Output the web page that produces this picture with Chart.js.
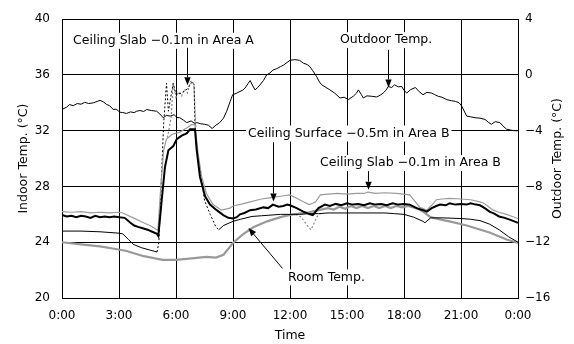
<!DOCTYPE html>
<html><head><meta charset="utf-8">
<script src="https://cdn.jsdelivr.net/npm/chart.js@4/dist/chart.umd.min.js"></script>
<style>html,body{margin:0;padding:0;background:#fff}</style>
</head><body>
<canvas id="c" width="574" height="344"></canvas>
<script>
// ---------- data (hours of day, temperatures in °C) ----------
const xTicks = [0, 3, 6, 9, 12, 15, 18, 21, 24];
const xTickLabels = ['0:00','3:00','6:00','9:00','12:00','15:00','18:00','21:00','0:00'];
const indoorTicks = [20, 24, 28, 32, 36, 40];
const outdoorTicks = [-16, -12, -8, -4, 0, 4];

// Outdoor temperature (right axis)
const outdoorTime = [0,0.25,0.4,0.6,0.8,1.0,1.2,1.4,1.65,1.85,2.0,2.2,2.35,2.5,2.7,2.85,3.05,3.2,3.4,3.6,3.8,3.93,4.1,4.3,4.46,4.7,4.98,5.15,5.33,5.5,5.7,5.9,6.05,6.2,6.4,6.56,6.8,6.95,7.1,7.3,7.5,7.7,7.9,8.1,8.3,8.5,8.67,8.85,8.98,9.2,9.37,9.5,9.63,9.8,9.9,10.05,10.16,10.3,10.42,10.6,10.77,10.95,11.1,11.3,11.5,11.65,11.85,12.0,12.25,12.5,12.7,12.9,13.05,13.2,13.4,13.55,13.67,13.9,14.1,14.35,14.63,14.85,15.07,15.33,15.5,15.6,15.75,15.86,16.05,16.3,16.56,16.75,16.9,17.05,17.17,17.35,17.5,17.7,17.88,18.0,18.14,18.35,18.6,18.8,19.0,19.2,19.46,19.6,19.8,20.0,20.25,20.5,20.7,20.9,21.04,21.3,21.5,21.74,22.0,22.26,22.45,22.6,22.8,23.05,23.2,23.4,23.6,23.8,24.0];
const outdoorTemp = [-2.48,-2.3,-2.13,-2.2,-2.05,-2.1,-1.96,-2.05,-2.0,-1.9,-1.82,-1.95,-2.12,-2.2,-2.48,-2.45,-2.67,-2.7,-2.76,-2.65,-2.7,-2.6,-2.55,-2.62,-2.48,-2.55,-2.6,-2.8,-3.07,-2.9,-2.95,-2.85,-3.05,-3.07,-3.25,-3.42,-3.3,-3.45,-3.42,-3.5,-3.54,-3.6,-3.84,-3.6,-3.42,-3.1,-2.6,-1.9,-1.42,-1.3,-1.18,-1.1,-0.95,-0.6,-0.4,-0.8,-1.07,-0.9,-0.71,-0.4,0.0,0.15,0.35,0.45,0.6,0.7,0.9,1.05,1.1,1.05,0.85,0.75,0.59,0.3,-0.12,-0.5,-0.71,-0.9,-1.07,-1.3,-1.65,-1.6,-1.77,-1.53,-1.3,-1.07,-1.4,-1.65,-1.5,-1.53,-1.58,-1.45,-1.3,-1.1,-0.83,-0.9,-0.71,-0.85,-0.83,-1.1,-1.3,-1.05,-0.9,-1.2,-1.42,-1.25,-1.3,-1.4,-1.53,-1.6,-1.77,-1.85,-1.89,-2.0,-2.24,-2.95,-3.0,-3.07,-3.1,-3.19,-3.4,-3.54,-3.35,-3.42,-3.65,-3.89,-3.95,-4.0,-4.0];

// Ceiling Surface -0.5m in Area B (thick black)
const surfBTime = [0,0.25,0.5,0.75,1.0,1.25,1.5,1.75,2.0,2.25,2.5,2.75,3.0,3.3,3.6,3.8,4.0,4.25,4.5,4.75,5.0,5.07,5.25,5.42,5.6,5.86,6.04,6.3,6.56,6.74,7.0,7.09,7.26,7.53,7.79,8.14,8.49,8.75,9.0,9.2,9.37,9.6,9.9,10.2,10.6,10.85,11.1,11.4,11.65,11.85,12.0,12.35,12.7,13.05,13.2,13.5,13.84,14.1,14.4,14.7,15.0,15.3,15.6,15.9,16.2,16.5,16.8,17.1,17.4,17.7,18.0,18.3,18.67,19.0,19.2,19.46,19.7,19.9,20.2,20.4,20.7,21.0,21.3,21.5,21.8,22.0,22.25,22.5,22.75,23.0,23.3,23.6,23.8,24.0];
const surfBTemp = [25.95,25.85,25.9,25.8,25.9,25.85,25.75,25.9,25.8,25.85,25.8,25.85,25.8,25.75,25.4,25.2,25.1,25.0,24.9,24.75,24.6,24.45,27.05,29.4,30.6,30.9,31.4,31.65,31.8,32.1,32.1,30.6,28.7,27.3,26.7,26.3,25.95,25.75,25.7,25.8,26.0,26.1,26.3,26.35,26.5,26.45,26.7,26.55,26.6,26.7,26.65,26.45,26.2,26.0,25.95,26.45,26.7,26.6,26.75,26.65,26.8,26.7,26.75,26.65,26.8,26.7,26.75,26.65,26.8,26.7,26.75,26.7,26.45,26.3,26.2,26.45,26.6,26.7,26.65,26.8,26.7,26.75,26.7,26.8,26.7,26.65,26.45,26.2,26.05,25.85,25.75,25.6,25.5,25.4];

// Ceiling Slab -0.1m in Area B (thin light grey)
const slabBTime = [0,0.5,1.0,1.5,2.0,2.5,3.0,3.2,3.75,4.3,4.7,5.0,5.05,5.2,5.35,5.5,5.8,6.2,6.56,6.83,7.0,7.17,7.35,7.6,7.95,8.4,8.84,9.0,9.5,9.9,10.5,11.0,11.5,12.0,12.35,12.7,13.0,13.2,13.35,13.6,14.0,14.5,15.0,15.5,15.9,16.1,16.5,17.0,17.6,18.0,18.3,18.6,18.84,19.2,19.46,19.7,20.0,20.4,21.0,21.5,22.0,22.2,22.7,23.0,23.4,23.7,24.0];
const slabBTemp = [26.2,26.15,26.2,26.1,26.15,26.1,26.15,26.1,25.75,25.4,25.15,24.9,24.85,28.0,30.6,31.4,31.75,31.9,32.2,32.45,32.4,30.3,28.7,27.5,26.7,26.3,26.45,26.6,26.75,26.9,27.1,27.2,27.3,27.4,27.15,26.9,26.7,26.8,26.9,27.4,27.45,27.5,27.45,27.5,27.5,27.6,27.5,27.55,27.5,27.45,27.4,26.9,26.5,26.3,26.65,27.05,27.1,27.15,27.1,27.05,26.9,26.8,26.3,26.15,26.0,25.85,25.7];

// Room Temp. (thick grey)
const roomTime = [0,1.0,2.0,2.9,3.4,4.3,5.3,6.0,6.7,7.6,8.1,8.5,9.0,9.5,10.07,10.8,11.5,12.0,12.5,13.0,13.5,14.0,14.3,14.6,14.9,15.2,15.5,15.8,16.1,16.4,16.7,17.0,17.3,17.6,17.9,18.2,18.5,18.8,19.0,19.4,20.0,20.4,21.3,22.5,23.4,24.0];
const roomTemp = [24.0,23.85,23.7,23.5,23.37,23.0,22.74,22.74,22.83,22.95,22.9,23.1,23.95,24.55,25.07,25.5,25.8,25.96,26.05,26.15,26.3,26.45,26.35,26.55,26.4,26.6,26.45,26.6,26.45,26.6,26.45,26.6,26.45,26.6,26.5,26.6,26.5,26.35,26.2,25.8,25.6,25.5,25.2,24.7,24.2,23.95];

// Ceiling Slab -0.1m in Area A (thin black, dotted during the spike)
const slabATime = [0,1.0,2.0,3.0,3.2,3.5,3.75,4.2,4.6,5.0,5.1,5.2,5.35,5.5,5.6,5.85,6.0,6.3,6.6,6.85,6.95,7.0,7.1,7.25,7.5,7.8,8.1,8.25,8.5,9.0,9.4,10.0,10.5,11.0,11.5,12.0,12.5,13.0,13.5,14.0,15.0,16.0,17.0,17.5,18.0,18.5,19.0,19.1,19.4,20.0,21.0,21.5,22.0,22.5,23.0,23.5,24.0];
const slabATemp = [24.8,24.8,24.75,24.65,24.6,24.2,23.85,23.6,23.45,23.3,24.0,27.5,32.5,35.4,33.4,35.4,34.6,34.7,35.0,35.5,35.3,32.5,30.5,29.4,27.0,26.0,25.1,24.9,25.2,25.5,25.65,25.85,25.9,25.95,26.0,26.0,26.0,26.05,26.05,26.1,26.1,26.1,26.1,26.05,26.0,25.8,25.5,25.4,25.75,25.75,25.7,25.65,25.55,25.3,24.9,24.4,24.0];

// Grey dotted trace (Area A) where it separates from the thin black line
const slabAGreyTime = [5.55,5.75,5.85,6.0,6.15,6.3,6.45,6.6,6.75,6.85,6.95,7.0,7.05,9.0,12.3,12.6,12.85,13.1,13.25,13.4,13.6];
const slabAGreyTemp = [31.5,33.0,35.4,34.4,34.8,34.5,35.0,34.7,35.5,35.6,35.2,33.5,32.3,null,26.0,25.8,25.3,24.9,25.3,25.8,26.05];

// annotation texts
const noteTexts = ['Ceiling Slab \u22120.1m in Area A','Outdoor Temp.','Ceiling Surface \u22120.5m in Area B','Ceiling Slab \u22120.1m in Area B','Room Temp.'];
const axisTitles = {left:'Indoor Temp. (\u00B0C)', right:'Outdoor Temp. (\u00B0C)', bottom:'Time'};

// ---------- presentation ----------
const pts = (t, v) => t.map((x, i) => ({x, y: v[i]}));
const FONT_FAMILY = '"DejaVu Sans", sans-serif';
const noteLayout = [
  {x:0.58,  y:38.45, from:[6.58,37.95], to:[6.58,35.27]},
  {x:14.63, y:38.5,  from:[17.16,37.8], to:[17.16,35.1]},
  {x:9.79,  y:31.8,  from:[11.1,31.17], to:[11.1,26.93]},
  {x:13.58, y:29.68, from:[16.1,29.1],  to:[16.1,27.77]},
  {x:11.9,  y:21.48, from:[11.58,22.12],to:[9.79,25.02]}
];

const notesPlugin = {
  id: 'notes',
  afterDatasetsDraw(chart) {
    const ctx = chart.ctx, xs = chart.scales.x, ys = chart.scales.y, ca = chart.chartArea;
    ctx.save();
    ctx.font = '12.5px ' + FONT_FAMILY;
    ctx.textBaseline = 'middle';
    noteLayout.forEach((n, i) => {
      const t = noteTexts[i];
      const px = xs.getPixelForValue(n.x), py = ys.getPixelForValue(n.y);
      const w = ctx.measureText(t).width;
      ctx.fillStyle = '#fff';
      ctx.fillRect(px - 2, py - 8, w + 4, 16);
      ctx.fillStyle = '#000';
      ctx.textAlign = 'left';
      ctx.fillText(t, px, py);
      const x1 = xs.getPixelForValue(n.from[0]), y1 = ys.getPixelForValue(n.from[1]);
      const x2 = xs.getPixelForValue(n.to[0]), y2 = ys.getPixelForValue(n.to[1]);
      const a = Math.atan2(y2 - y1, x2 - x1), L = 8, H = 3.2;
      ctx.strokeStyle = '#000'; ctx.lineWidth = 1;
      ctx.beginPath();
      ctx.moveTo(Math.round(x1) + 0.5, y1);
      ctx.lineTo(Math.round(x2) + 0.5 - L * Math.cos(a), y2 - L * Math.sin(a));
      ctx.stroke();
      ctx.beginPath();
      const bx = Math.round(x2) + 0.5, by = y2;
      ctx.moveTo(bx, by);
      ctx.lineTo(bx - L * Math.cos(a) + H * Math.sin(a), by - L * Math.sin(a) - H * Math.cos(a));
      ctx.lineTo(bx - L * Math.cos(a) - H * Math.sin(a), by - L * Math.sin(a) + H * Math.cos(a));
      ctx.closePath(); ctx.fill();
    });
    // axis titles
    ctx.font = '12.5px ' + FONT_FAMILY;
    ctx.textAlign = 'center';
    const cy = (ca.top + ca.bottom) / 2;
    ctx.save(); ctx.translate(24, cy); ctx.rotate(-Math.PI / 2); ctx.fillText(axisTitles.left, 0, 0); ctx.restore();
    ctx.save(); ctx.translate(558, cy); ctx.rotate(-Math.PI / 2); ctx.fillText(axisTitles.right, 0, 0); ctx.restore();
    ctx.fillText(axisTitles.bottom, (ca.left + ca.right) / 2, 336);
    ctx.restore();
  }
};

const dashRange = (lo, hi) => ctx => (ctx.p0.parsed.x >= lo && ctx.p1.parsed.x <= hi) ? [2, 2] : undefined;

new Chart(document.getElementById('c'), {
  type: 'line',
  data: {
    datasets: [
      {label:'Ceiling Surface -0.5m in Area B', data: pts(surfBTime, surfBTemp), borderColor:'#000', borderWidth:2, yAxisID:'y'},
      {label:'Ceiling Slab -0.1m in Area B', data: pts(slabBTime, slabBTemp), borderColor:'#9a9a9a', borderWidth:1.2, yAxisID:'y'},
      {label:'Ceiling Slab -0.1m in Area A', data: pts(slabATime, slabATemp), borderColor:'#000', borderWidth:1, yAxisID:'y',
        segment:{borderDash: dashRange(5.0, 8.3)}},
      {label:'Area A (grey dotted)', data: pts(slabAGreyTime, slabAGreyTemp), borderColor:'#888', borderWidth:1.2, borderDash:[2,2], spanGaps:false, yAxisID:'y'},
      {label:'Room Temp.', data: pts(roomTime, roomTemp), borderColor:'#999', borderWidth:2.2, yAxisID:'y'},
      {label:'Outdoor Temp.', data: pts(outdoorTime, outdoorTemp), borderColor:'#000', borderWidth:1, yAxisID:'y2'}
    ]
  },
  options: {
    responsive:false, animation:false, devicePixelRatio:1,
    elements:{point:{radius:0}, line:{tension:0, fill:false}},
    layout:{padding:{top:8.8, left:0, right:0, bottom:0}},
    plugins:{legend:{display:false}, tooltip:{enabled:false}},
    scales:{
      x:{type:'linear', min:0, max:24,
        afterBuildTicks: s => { s.ticks = xTicks.map(v => ({value:v})); },
        afterFit: s => { s.height = 46; },
        ticks:{callback:(v) => xTickLabels[xTicks.indexOf(v)], color:'#000', font:{family:FONT_FAMILY, size:12}, padding:11, maxRotation:0, autoSkip:false},
        grid:{color:'#000', lineWidth:1, drawTicks:false},
        border:{color:'#000', width:1}},
      y:{position:'left', min:20, max:40,
        afterBuildTicks: s => { s.ticks = indoorTicks.map(v => ({value:v})); },
        afterFit: s => { s.width = 62; },
        ticks:{color:'#000', font:{family:FONT_FAMILY, size:12}, padding:12},
        grid:{color:'#000', lineWidth:1, drawTicks:false},
        border:{color:'#000', width:1}},
      y2:{position:'right', min:-16, max:4,
        afterBuildTicks: s => { s.ticks = outdoorTicks.map(v => ({value:v})); },
        afterFit: s => { s.width = 56; },
        ticks:{callback:v => String(v).replace('-', '\u2212'), color:'#000', font:{family:FONT_FAMILY, size:12}, padding:7},
        grid:{drawOnChartArea:false, drawTicks:false},
        border:{color:'#000', width:1}}
    }
  },
  plugins:[notesPlugin]
});
</script>
</body></html>
